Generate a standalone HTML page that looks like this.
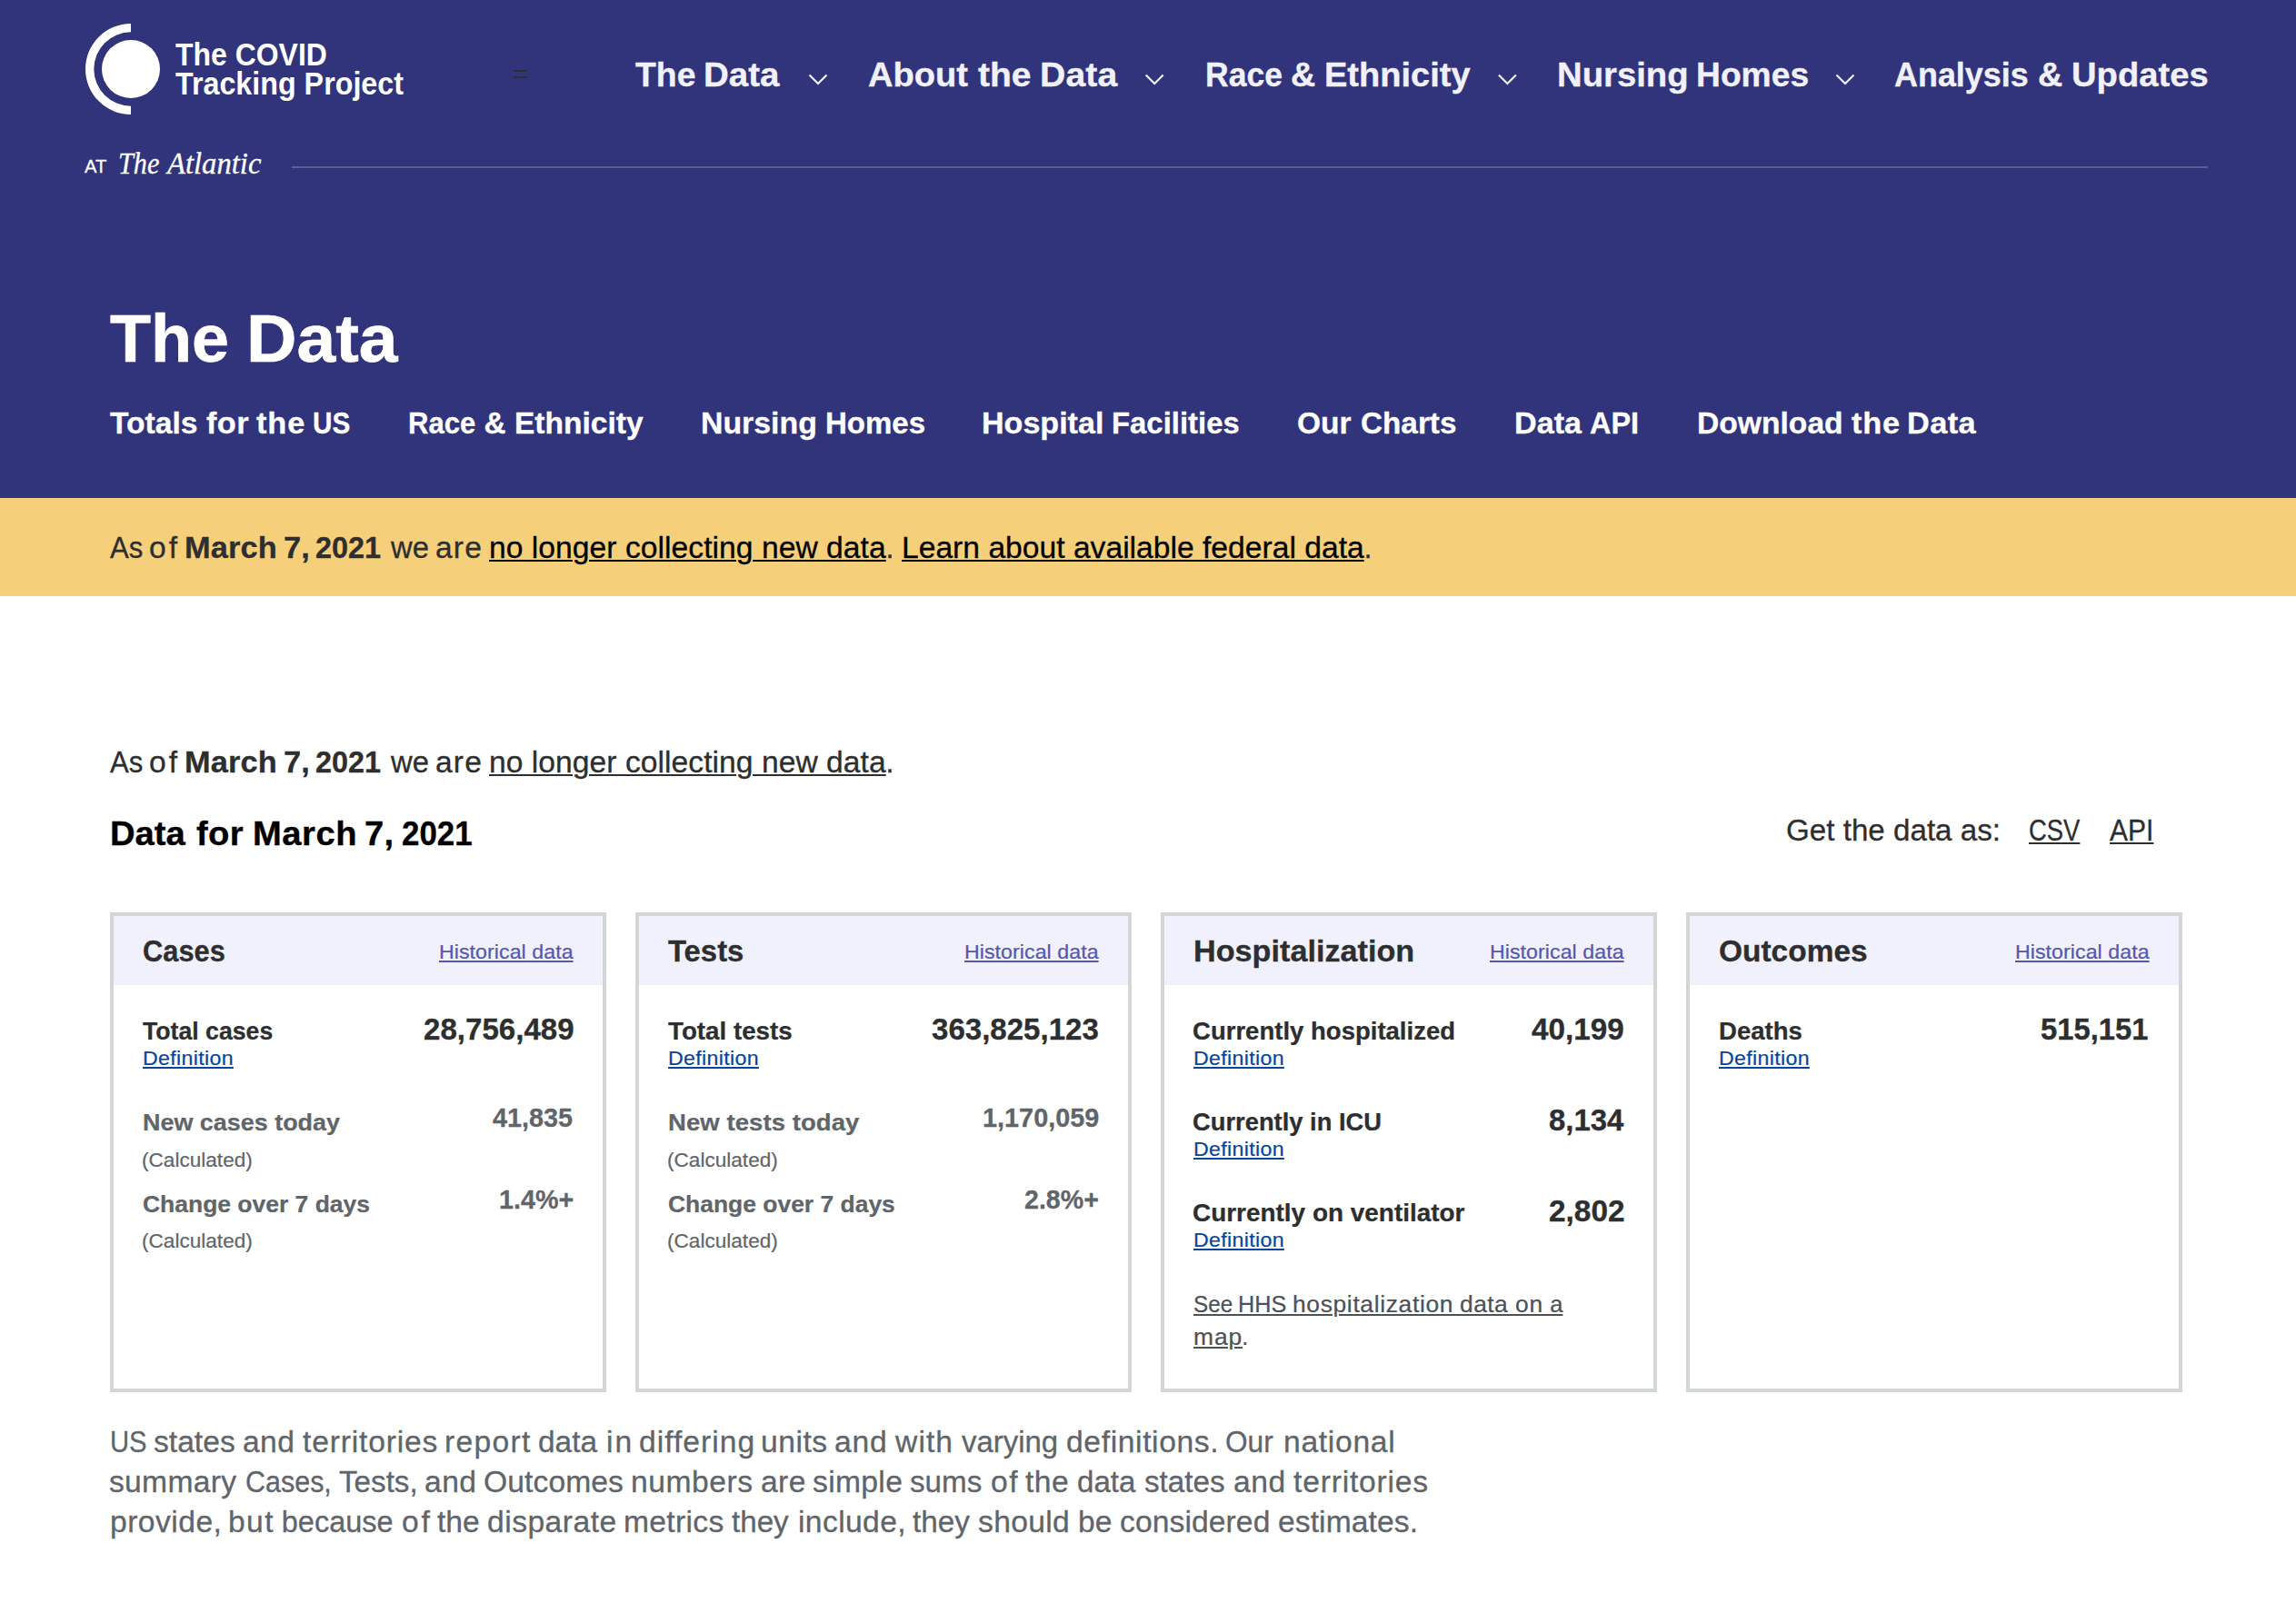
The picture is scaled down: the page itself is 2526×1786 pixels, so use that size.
<!DOCTYPE html>
<html lang="en"><head><meta charset="utf-8"><title>The Data | The COVID Tracking Project</title>
<style>
html,body{margin:0;padding:0}
body{width:2526px;height:1786px;position:relative;overflow:hidden;background:#fff;font-family:"Liberation Sans",sans-serif}
.t{position:absolute;line-height:1;white-space:pre;margin:0;padding:0;transform-origin:0 0;text-decoration:none;font-weight:400;display:block;-webkit-text-stroke:.009em}
.u{text-decoration:underline;text-decoration-thickness:max(1.8px,.064em);text-underline-offset:.07em}
.at{-webkit-text-stroke:.3px #fff}
.ns{-webkit-text-stroke:0}
p,h1,h2,h3,nav,section{margin:0;padding:0}
#hdr{position:absolute;left:0;top:0;width:2526px;height:548px;background:#31347a}
#rule{position:absolute;left:321px;top:183px;width:2108px;height:2px;background:#5c5e98}
.bar{position:absolute;left:565px;width:15px;height:2.4px;background:#2e2e2e}
#banner{position:absolute;left:0;top:548px;width:2526px;height:108px;background:#f6cf7b}
.card{position:absolute;top:1004px;width:538px;height:520px;border:4px solid #d2d6d7;background:#fff}
.ch{height:76px;background:#f1f1fe}
svg{position:absolute;left:0;top:0}
</style></head><body>
<header id="hdr">
<div id="rule"></div><div class="bar" style="top:77.1px"></div><div class="bar" style="top:83.6px"></div>
<svg width="2526" height="200" viewBox="0 0 2526 200" aria-hidden="true">
<circle cx="144" cy="76" r="32" fill="#fff"/>
<path d="M144,26 A50,50 0 0 0 144,126 L144,116.7 A40.7,40.7 0 0 1 144,35.3 Z" fill="#fff"/>
<g fill="none" stroke="#f1f1fc" stroke-width="2.2"><path d="M890.5,82.5 L900,92 L909.5,82.5"/><path d="M1260.7,82.5 L1270.2,92 L1279.7,82.5"/><path d="M1648.9,82.5 L1658.4,92 L1667.9,82.5"/><path d="M2020.5,82.5 L2030,92 L2039.5,82.5"/></g>
</svg>
<a id="logo" href="#">
<span class="t ns" style="left:193.32px;top:42.50px;font-size:34.4px;color:#fff;font-weight:700;transform:scaleX(0.9291)">The COVID</span>
<span class="t ns" style="left:193.32px;top:74.90px;font-size:34.4px;color:#fff;font-weight:700;transform:scaleX(0.9379)">Tracking Project</span>
</a>
<div id="atl">
<span class="t at" style="left:92.74px;top:171.80px;font-size:21px;color:#fff;transform:scaleX(0.9613)">AT</span>
<span class="t" style="left:130.38px;top:162.90px;font-size:33.6px;color:#fff;font-style:italic;font-family:'Liberation Serif',serif;transform:scaleX(0.9001)">The</span>
<span class="t" style="left:184.36px;top:162.90px;font-size:33.6px;color:#fff;font-style:italic;font-family:'Liberation Serif',serif;transform:scaleX(0.9730)">Atlantic</span>
</div>
<nav id="nav">
<a href="#">
<span class="t" style="left:698.97px;top:64.30px;font-size:37.8px;color:#f1f1fc;font-weight:700;transform:scaleX(0.9895)">The</span>
<span class="t" style="left:774.22px;top:64.30px;font-size:37.8px;color:#f1f1fc;font-weight:700;transform:scaleX(1.0172)">Data</span>
</a>
<a href="#">
<span class="t" style="left:954.76px;top:64.30px;font-size:37.8px;color:#f1f1fc;font-weight:700;transform:scaleX(1.0076)">About</span>
<span class="t" style="left:1075.91px;top:64.30px;font-size:37.8px;color:#f1f1fc;font-weight:700;transform:scaleX(1.0335)">the</span>
<span class="t" style="left:1143.87px;top:64.30px;font-size:37.8px;color:#f1f1fc;font-weight:700;letter-spacing:0.156px;transform:scaleX(1.0350)">Data</span>
</a>
<a href="#">
<span class="t" style="left:1326.42px;top:64.30px;font-size:37.8px;color:#f1f1fc;font-weight:700;transform:scaleX(0.9399)">Race</span>
<span class="t" style="left:1420.07px;top:64.30px;font-size:37.8px;color:#f1f1fc;font-weight:700">&amp;</span>
<span class="t" style="left:1457.25px;top:64.30px;font-size:37.8px;color:#f1f1fc;font-weight:700;transform:scaleX(1.0058)">Ethnicity</span>
</a>
<a href="#">
<span class="t" style="left:1712.53px;top:64.30px;font-size:37.8px;color:#f1f1fc;font-weight:700;transform:scaleX(1.0128)">Nursing</span>
<span class="t" style="left:1865.50px;top:64.30px;font-size:37.8px;color:#f1f1fc;font-weight:700;transform:scaleX(0.9847)">Homes</span>
</a>
<a href="#">
<span class="t" style="left:2083.83px;top:64.30px;font-size:37.8px;color:#f1f1fc;font-weight:700;transform:scaleX(0.9505)">Analysis</span>
<span class="t" style="left:2241.97px;top:64.30px;font-size:37.8px;color:#f1f1fc;font-weight:700">&amp;</span>
<span class="t" style="left:2278.89px;top:64.30px;font-size:37.8px;color:#f1f1fc;font-weight:700;transform:scaleX(1.0102)">Updates</span>
</a>
</nav>
<div id="hero">
<h1>
<span class="t" style="left:120.97px;top:334.90px;font-size:75px;color:#fff;font-weight:700;transform:scaleX(0.9823)">The</span>
<span class="t" style="left:271.08px;top:334.90px;font-size:75px;color:#fff;font-weight:700;transform:scaleX(1.0246)">Data</span>
</h1>
</div>
<nav id="subnav">
<a href="#">
<span class="t" style="left:121.11px;top:448.70px;font-size:33.2px;color:#fff;font-weight:700;transform:scaleX(1.0129)">Totals</span>
<span class="t" style="left:227.01px;top:448.70px;font-size:33.2px;color:#fff;font-weight:700;letter-spacing:0.349px;transform:scaleX(1.0350)">for</span>
<span class="t" style="left:281.97px;top:448.70px;font-size:33.2px;color:#fff;font-weight:700;letter-spacing:0.854px;transform:scaleX(1.0350)">the</span>
<span class="t" style="left:344.31px;top:448.70px;font-size:33.2px;color:#fff;font-weight:700;transform:scaleX(0.8958)">US</span>
</a>
<a href="#">
<span class="t" style="left:448.90px;top:448.70px;font-size:33.2px;color:#fff;font-weight:700;transform:scaleX(0.9370)">Race</span>
<span class="t" style="left:532.39px;top:448.70px;font-size:33.2px;color:#fff;font-weight:700">&amp;</span>
<span class="t" style="left:565.94px;top:448.70px;font-size:33.2px;color:#fff;font-weight:700;transform:scaleX(1.0108)">Ethnicity</span>
</a>
<a href="#">
<span class="t" style="left:770.92px;top:448.70px;font-size:33.2px;color:#fff;font-weight:700;transform:scaleX(1.0194)">Nursing</span>
<span class="t" style="left:907.57px;top:448.70px;font-size:33.2px;color:#fff;font-weight:700;transform:scaleX(0.9948)">Homes</span>
</a>
<a href="#">
<span class="t" style="left:1080.40px;top:448.70px;font-size:33.2px;color:#fff;font-weight:700;transform:scaleX(1.0264)">Hospital</span>
<span class="t" style="left:1223.18px;top:448.70px;font-size:33.2px;color:#fff;font-weight:700;transform:scaleX(0.9906)">Facilities</span>
</a>
<a href="#">
<span class="t" style="left:1427.40px;top:448.70px;font-size:33.2px;color:#fff;font-weight:700;transform:scaleX(1.0086)">Our</span>
<span class="t" style="left:1496.90px;top:448.70px;font-size:33.2px;color:#fff;font-weight:700;transform:scaleX(1.0030)">Charts</span>
</a>
<a href="#">
<span class="t" style="left:1665.69px;top:448.70px;font-size:33.2px;color:#fff;font-weight:700;transform:scaleX(1.0296)">Data</span>
<span class="t" style="left:1749.25px;top:448.70px;font-size:33.2px;color:#fff;font-weight:700;transform:scaleX(0.9763)">API</span>
</a>
<a href="#">
<span class="t" style="left:1867.03px;top:448.70px;font-size:33.2px;color:#fff;font-weight:700;transform:scaleX(1.0133)">Download</span>
<span class="t" style="left:2036.67px;top:448.70px;font-size:33.2px;color:#fff;font-weight:700;letter-spacing:0.709px;transform:scaleX(1.0350)">the</span>
<span class="t" style="left:2097.88px;top:448.70px;font-size:33.2px;color:#fff;font-weight:700;letter-spacing:0.360px;transform:scaleX(1.0350)">Data</span>
</a>
</nav>
</header>
<div id="banner">
<p class="lead">
<span class="t" style="left:120.83px;top:39.30px;font-size:32.5px;color:#2d2e2f;transform:scaleX(0.9566)">As</span>
<span class="t" style="left:164.12px;top:39.30px;font-size:32.5px;color:#2d2e2f;letter-spacing:3.049px;transform:scaleX(1.0350)">of</span>
<strong>
<span class="t" style="left:202.88px;top:38.30px;font-size:33.2px;color:#2d2e2f;font-weight:700;letter-spacing:0.161px;transform:scaleX(1.0350)">March</span>
<span class="t" style="left:311.61px;top:38.30px;font-size:33.2px;color:#2d2e2f;font-weight:700;letter-spacing:0.100px;transform:scaleX(1.0350)">7,</span>
<span class="t" style="left:347.45px;top:38.30px;font-size:33.2px;color:#2d2e2f;font-weight:700;transform:scaleX(0.9765)">2021</span>
</strong>
<span class="t" style="left:429.89px;top:39.30px;font-size:32.5px;color:#2d2e2f;transform:scaleX(1.0087)">we</span>
<span class="t" style="left:479.31px;top:39.30px;font-size:32.5px;color:#2d2e2f;letter-spacing:1.087px;transform:scaleX(1.0350)">are</span>
<a class="t u" href="#" style="left:538.30px;top:39.30px;font-size:32.5px;color:#000;letter-spacing:0.033px;transform:scaleX(1.0350)">no longer collecting new data</a><span class="t" style="left:974.40px;top:39.30px;font-size:32.5px;color:#2d2e2f">.</span>
<a class="t u" href="#" style="left:992.30px;top:39.30px;font-size:32.5px;color:#000;transform:scaleX(1.0350)">Learn about available federal data</a><span class="t" style="left:1500.50px;top:39.30px;font-size:32.5px;color:#2d2e2f">.</span>
</p>
</div>
<main id="main">
<p class="lead">
<span class="t" style="left:120.83px;top:822.80px;font-size:32.5px;color:#2d2e2f;transform:scaleX(0.9566)">As</span>
<span class="t" style="left:164.12px;top:822.80px;font-size:32.5px;color:#2d2e2f;letter-spacing:3.049px;transform:scaleX(1.0350)">of</span>
<strong>
<span class="t" style="left:202.88px;top:821.80px;font-size:33.2px;color:#2d2e2f;font-weight:700;letter-spacing:0.161px;transform:scaleX(1.0350)">March</span>
<span class="t" style="left:311.61px;top:821.80px;font-size:33.2px;color:#2d2e2f;font-weight:700;letter-spacing:0.100px;transform:scaleX(1.0350)">7,</span>
<span class="t" style="left:347.45px;top:821.80px;font-size:33.2px;color:#2d2e2f;font-weight:700;transform:scaleX(0.9765)">2021</span>
</strong>
<span class="t" style="left:429.89px;top:822.80px;font-size:32.5px;color:#2d2e2f;transform:scaleX(1.0087)">we</span>
<span class="t" style="left:479.31px;top:822.80px;font-size:32.5px;color:#2d2e2f;letter-spacing:1.087px;transform:scaleX(1.0350)">are</span>
<a class="t u" href="#" style="left:538.30px;top:822.80px;font-size:32.5px;color:#2d2e2f;letter-spacing:0.033px;transform:scaleX(1.0350)">no longer collecting new data</a><span class="t" style="left:974.40px;top:822.80px;font-size:32.5px;color:#2d2e2f">.</span>
</p>
<div id="datahead">
<h2>
<span class="t" style="left:121.13px;top:899.70px;font-size:36.9px;color:#000;font-weight:700;transform:scaleX(1.0350)">Data</span>
<span class="t" style="left:216.35px;top:899.70px;font-size:36.9px;color:#000;font-weight:700;letter-spacing:0.345px;transform:scaleX(1.0350)">for</span>
<span class="t" style="left:277.53px;top:899.70px;font-size:36.9px;color:#000;font-weight:700;letter-spacing:0.482px;transform:scaleX(1.0350)">March</span>
<span class="t" style="left:400.66px;top:899.70px;font-size:36.9px;color:#000;font-weight:700;letter-spacing:0.166px;transform:scaleX(1.0350)">7,</span>
<span class="t" style="left:441.67px;top:899.70px;font-size:36.9px;color:#000;font-weight:700;transform:scaleX(0.9463)">2021</span>
</h2>
<span class="t" style="left:1964.90px;top:898.30px;font-size:32.5px;color:#2d2e2f;transform:scaleX(1.0205)">Get the data as:</span>
<a class="t u" href="#" style="left:2232.40px;top:898.30px;font-size:32.5px;color:#2d2e2f;transform:scaleX(0.8440)">CSV</a>
<a class="t u" href="#" style="left:2320.70px;top:898.30px;font-size:32.5px;color:#2d2e2f;transform:scaleX(0.9238)">API</a>
</div>
<section class="card" style="left:121px">
<div class="ch"></div>
<h3 class="t" style="left:32.21px;top:21.80px;font-size:33.2px;color:#2d2e2f;font-weight:700;transform:scaleX(0.9283)">Cases</h3>
<a class="t u" href="#" style="left:358.00px;top:28.50px;font-size:22.4px;color:#5457ad;letter-spacing:0.049px;transform:scaleX(1.0350)">Historical data</a>
<span class="t" style="left:31.98px;top:113.00px;font-size:27.6px;color:#2d2e2f;font-weight:700;transform:scaleX(0.9663)">Total cases</span>
<span class="t" style="left:340.63px;top:107.90px;font-size:33.2px;color:#2d2e2f;font-weight:700;transform:scaleX(0.9972)">28,756,489</span>
<a class="t u" href="#" style="left:32.10px;top:145.70px;font-size:22.4px;color:#05459e;letter-spacing:0.316px;transform:scaleX(1.0350)">Definition</a>
<span class="t" style="left:31.80px;top:213.80px;font-size:26.6px;color:#60656a;font-weight:700;transform:scaleX(1.0125)">New cases today</span>
<span class="t" style="left:417.36px;top:206.80px;font-size:29.4px;color:#60656a;font-weight:700;transform:scaleX(0.9793)">41,835</span>
<span class="t" style="left:31.26px;top:257.60px;font-size:22.4px;color:#60656a;transform:scaleX(1.0089)">(Calculated)</span>
<span class="t" style="left:31.82px;top:303.70px;font-size:26.6px;color:#60656a;font-weight:700;transform:scaleX(0.9949)">Change over 7 days</span>
<span class="t" style="left:424.00px;top:297.00px;font-size:29.4px;color:#60656a;font-weight:700;transform:scaleX(0.9764)">1.4%+</span>
<span class="t" style="left:31.26px;top:347.40px;font-size:22.4px;color:#60656a;transform:scaleX(1.0089)">(Calculated)</span>
</section>
<section class="card" style="left:699px">
<div class="ch"></div>
<h3 class="t" style="left:32.32px;top:21.80px;font-size:33.2px;color:#2d2e2f;font-weight:700;transform:scaleX(0.9892)">Tests</h3>
<a class="t u" href="#" style="left:358.00px;top:28.50px;font-size:22.4px;color:#5457ad;letter-spacing:0.049px;transform:scaleX(1.0350)">Historical data</a>
<span class="t" style="left:32.37px;top:113.00px;font-size:27.6px;color:#2d2e2f;font-weight:700;transform:scaleX(1.0058)">Total tests</span>
<span class="t" style="left:322.39px;top:107.90px;font-size:33.2px;color:#2d2e2f;font-weight:700;transform:scaleX(0.9962)">363,825,123</span>
<a class="t u" href="#" style="left:32.10px;top:145.70px;font-size:22.4px;color:#05459e;letter-spacing:0.316px;transform:scaleX(1.0350)">Definition</a>
<span class="t" style="left:31.56px;top:213.80px;font-size:26.6px;color:#60656a;font-weight:700;letter-spacing:0.060px;transform:scaleX(1.0350)">New tests today</span>
<span class="t" style="left:377.59px;top:206.80px;font-size:29.4px;color:#60656a;font-weight:700;transform:scaleX(0.9815)">1,170,059</span>
<span class="t" style="left:31.26px;top:257.60px;font-size:22.4px;color:#60656a;transform:scaleX(1.0089)">(Calculated)</span>
<span class="t" style="left:32.02px;top:303.70px;font-size:26.6px;color:#60656a;font-weight:700;transform:scaleX(0.9941)">Change over 7 days</span>
<span class="t" style="left:424.21px;top:297.00px;font-size:29.4px;color:#60656a;font-weight:700;transform:scaleX(0.9726)">2.8%+</span>
<span class="t" style="left:31.26px;top:347.40px;font-size:22.4px;color:#60656a;transform:scaleX(1.0089)">(Calculated)</span>
</section>
<section class="card" style="left:1277px">
<div class="ch"></div>
<h3 class="t" style="left:31.59px;top:21.80px;font-size:33.2px;color:#2d2e2f;font-weight:700;transform:scaleX(1.0305)">Hospitalization</h3>
<a class="t u" href="#" style="left:358.00px;top:28.50px;font-size:22.4px;color:#5457ad;letter-spacing:0.049px;transform:scaleX(1.0350)">Historical data</a>
<span class="t" style="left:31.41px;top:113.00px;font-size:27.6px;color:#2d2e2f;font-weight:700;transform:scaleX(0.9975)">Currently hospitalized</span>
<span class="t" style="left:404.49px;top:107.90px;font-size:33.2px;color:#2d2e2f;font-weight:700;transform:scaleX(1.0031)">40,199</span>
<a class="t u" href="#" style="left:32.10px;top:145.70px;font-size:22.4px;color:#05459e;letter-spacing:0.316px;transform:scaleX(1.0350)">Definition</a>
<span class="t" style="left:31.42px;top:212.80px;font-size:27.6px;color:#2d2e2f;font-weight:700;transform:scaleX(0.9905)">Currently in ICU</span>
<span class="t" style="left:422.88px;top:208.10px;font-size:33.2px;color:#2d2e2f;font-weight:700;transform:scaleX(0.9923)">8,134</span>
<a class="t u" href="#" style="left:32.10px;top:245.50px;font-size:22.4px;color:#05459e;letter-spacing:0.316px;transform:scaleX(1.0350)">Definition</a>
<span class="t" style="left:31.40px;top:313.20px;font-size:27.6px;color:#2d2e2f;font-weight:700;transform:scaleX(1.0120)">Currently on ventilator</span>
<span class="t" style="left:422.82px;top:308.20px;font-size:33.2px;color:#2d2e2f;font-weight:700;transform:scaleX(1.0070)">2,802</span>
<a class="t u" href="#" style="left:32.10px;top:345.60px;font-size:22.4px;color:#05459e;letter-spacing:0.316px;transform:scaleX(1.0350)">Definition</a>
<a href="#">
<span class="t u" style="left:32.00px;top:414.50px;font-size:25.5px;color:#4b5256;transform:scaleX(0.9510)">See </span>
<span class="t u" style="left:81.30px;top:414.50px;font-size:25.5px;color:#4b5256;transform:scaleX(0.9879)">HHS </span>
<span class="t u" style="left:140.90px;top:414.50px;font-size:25.5px;color:#4b5256;letter-spacing:0.634px;transform:scaleX(1.0350)">hospitalization </span>
<span class="t u" style="left:325.40px;top:414.50px;font-size:25.5px;color:#4b5256;letter-spacing:0.444px;transform:scaleX(1.0350)">data </span>
<span class="t u" style="left:385.80px;top:414.50px;font-size:25.5px;color:#4b5256;letter-spacing:0.775px;transform:scaleX(1.0350)">on </span>
<span class="t u" style="left:424.30px;top:414.50px;font-size:25.5px;color:#4b5256">a</span>
<span class="t u" style="left:32.00px;top:451.10px;font-size:25.5px;color:#4b5256;letter-spacing:0.887px;transform:scaleX(1.0350)">map</span>
</a><span class="t" style="left:85.25px;top:451.10px;font-size:25.5px;color:#4b5256">.</span>
</section>
<section class="card" style="left:1855px">
<div class="ch"></div>
<h3 class="t" style="left:31.90px;top:21.80px;font-size:33.2px;color:#2d2e2f;font-weight:700;transform:scaleX(1.0082)">Outcomes</h3>
<a class="t u" href="#" style="left:358.00px;top:28.50px;font-size:22.4px;color:#5457ad;letter-spacing:0.049px;transform:scaleX(1.0350)">Historical data</a>
<span class="t" style="left:32.36px;top:113.00px;font-size:27.6px;color:#2d2e2f;font-weight:700;transform:scaleX(0.9982)">Deaths</span>
<span class="t" style="left:386.11px;top:107.90px;font-size:33.2px;color:#2d2e2f;font-weight:700;transform:scaleX(0.9871)">515,151</span>
<a class="t u" href="#" style="left:32.10px;top:145.70px;font-size:22.4px;color:#05459e;letter-spacing:0.316px;transform:scaleX(1.0350)">Definition</a>
</section>
<p id="note">
<span class="t" style="left:120.64px;top:1570.60px;font-size:32.5px;color:#60656a;transform:scaleX(0.8998)">US</span>
<span class="t" style="left:169.42px;top:1570.60px;font-size:32.5px;color:#60656a;transform:scaleX(1.0346)">states</span>
<span class="t" style="left:267.31px;top:1570.60px;font-size:32.5px;color:#60656a;letter-spacing:0.380px;transform:scaleX(1.0350)">and</span>
<span class="t" style="left:332.89px;top:1570.60px;font-size:32.5px;color:#60656a;letter-spacing:0.786px;transform:scaleX(1.0350)">territories</span>
<span class="t" style="left:488.63px;top:1570.60px;font-size:32.5px;color:#60656a;letter-spacing:1.232px;transform:scaleX(1.0350)">report</span>
<span class="t" style="left:592.04px;top:1570.60px;font-size:32.5px;color:#60656a;transform:scaleX(1.0274)">data</span>
<span class="t" style="left:666.83px;top:1570.60px;font-size:32.5px;color:#60656a;letter-spacing:2.064px;transform:scaleX(1.0350)">in</span>
<span class="t" style="left:703.13px;top:1570.60px;font-size:32.5px;color:#60656a;letter-spacing:0.976px;transform:scaleX(1.0350)">differing</span>
<span class="t" style="left:836.70px;top:1570.60px;font-size:32.5px;color:#60656a;letter-spacing:0.488px;transform:scaleX(1.0350)">units</span>
<span class="t" style="left:918.41px;top:1570.60px;font-size:32.5px;color:#60656a;letter-spacing:0.767px;transform:scaleX(1.0350)">and</span>
<span class="t" style="left:984.69px;top:1570.60px;font-size:32.5px;color:#60656a;letter-spacing:1.049px;transform:scaleX(1.0350)">with</span>
<span class="t" style="left:1057.99px;top:1570.60px;font-size:32.5px;color:#60656a;transform:scaleX(1.0129)">varying</span>
<span class="t" style="left:1173.13px;top:1570.60px;font-size:32.5px;color:#60656a;letter-spacing:0.601px;transform:scaleX(1.0350)">definitions.</span>
<span class="t" style="left:1347.77px;top:1570.60px;font-size:32.5px;color:#60656a;transform:scaleX(0.9722)">Our</span>
<span class="t" style="left:1412.11px;top:1570.60px;font-size:32.5px;color:#60656a;letter-spacing:0.669px;transform:scaleX(1.0350)">national</span>
<span class="t" style="left:120.42px;top:1614.80px;font-size:32.5px;color:#60656a;letter-spacing:0.284px;transform:scaleX(1.0350)">summary</span>
<span class="t" style="left:270.43px;top:1614.80px;font-size:32.5px;color:#60656a;transform:scaleX(0.9375)">Cases,</span>
<span class="t" style="left:372.55px;top:1614.80px;font-size:32.5px;color:#60656a;transform:scaleX(1.0209)">Tests,</span>
<span class="t" style="left:466.51px;top:1614.80px;font-size:32.5px;color:#60656a;letter-spacing:0.428px;transform:scaleX(1.0350)">and</span>
<span class="t" style="left:531.77px;top:1614.80px;font-size:32.5px;color:#60656a;letter-spacing:0.088px;transform:scaleX(1.0350)">Outcomes</span>
<span class="t" style="left:694.01px;top:1614.80px;font-size:32.5px;color:#60656a;letter-spacing:0.535px;transform:scaleX(1.0350)">numbers</span>
<span class="t" style="left:836.81px;top:1614.80px;font-size:32.5px;color:#60656a;letter-spacing:0.363px;transform:scaleX(1.0350)">are</span>
<span class="t" style="left:894.22px;top:1614.80px;font-size:32.5px;color:#60656a;letter-spacing:0.318px;transform:scaleX(1.0350)">simple</span>
<span class="t" style="left:1000.94px;top:1614.80px;font-size:32.5px;color:#60656a;transform:scaleX(1.0201)">sums</span>
<span class="t" style="left:1089.72px;top:1614.80px;font-size:32.5px;color:#60656a;letter-spacing:1.503px;transform:scaleX(1.0350)">of</span>
<span class="t" style="left:1127.79px;top:1614.80px;font-size:32.5px;color:#60656a;letter-spacing:0.405px;transform:scaleX(1.0350)">the</span>
<span class="t" style="left:1184.85px;top:1614.80px;font-size:32.5px;color:#60656a;transform:scaleX(1.0177)">data</span>
<span class="t" style="left:1259.34px;top:1614.80px;font-size:32.5px;color:#60656a;transform:scaleX(1.0227)">states</span>
<span class="t" style="left:1356.81px;top:1614.80px;font-size:32.5px;color:#60656a;letter-spacing:0.573px;transform:scaleX(1.0350)">and</span>
<span class="t" style="left:1422.89px;top:1614.80px;font-size:32.5px;color:#60656a;letter-spacing:0.766px;transform:scaleX(1.0350)">territories</span>
<span class="t" style="left:120.68px;top:1658.70px;font-size:32.5px;color:#60656a;letter-spacing:0.453px;transform:scaleX(1.0350)">provide,</span>
<span class="t" style="left:250.87px;top:1658.70px;font-size:32.5px;color:#60656a;letter-spacing:1.355px;transform:scaleX(1.0350)">but</span>
<span class="t" style="left:309.75px;top:1658.70px;font-size:32.5px;color:#60656a">because</span>
<span class="t" style="left:441.52px;top:1658.70px;font-size:32.5px;color:#60656a;letter-spacing:2.759px;transform:scaleX(1.0350)">of</span>
<span class="t" style="left:480.59px;top:1658.70px;font-size:32.5px;color:#60656a;letter-spacing:0.018px;transform:scaleX(1.0350)">the</span>
<span class="t" style="left:536.23px;top:1658.70px;font-size:32.5px;color:#60656a;letter-spacing:0.458px;transform:scaleX(1.0350)">disparate</span>
<span class="t" style="left:686.41px;top:1658.70px;font-size:32.5px;color:#60656a;letter-spacing:0.296px;transform:scaleX(1.0350)">metrics</span>
<span class="t" style="left:804.70px;top:1658.70px;font-size:32.5px;color:#60656a;transform:scaleX(1.0204)">they</span>
<span class="t" style="left:878.03px;top:1658.70px;font-size:32.5px;color:#60656a;letter-spacing:0.364px;transform:scaleX(1.0350)">include,</span>
<span class="t" style="left:1003.89px;top:1658.70px;font-size:32.5px;color:#60656a;transform:scaleX(1.0237)">they</span>
<span class="t" style="left:1076.42px;top:1658.70px;font-size:32.5px;color:#60656a;letter-spacing:0.297px;transform:scaleX(1.0350)">should</span>
<span class="t" style="left:1186.08px;top:1658.70px;font-size:32.5px;color:#60656a;transform:scaleX(1.0310)">be</span>
<span class="t" style="left:1231.71px;top:1658.70px;font-size:32.5px;color:#60656a;letter-spacing:0.084px;transform:scaleX(1.0350)">considered</span>
<span class="t" style="left:1406.31px;top:1658.70px;font-size:32.5px;color:#60656a;letter-spacing:0.081px;transform:scaleX(1.0350)">estimates.</span>
</p>
</main>
<script>(function(){var d=window.devicePixelRatio||1;if(d>1&&Math.abs(window.innerWidth*d-2526)<6){var s=document.body.style;s.transformOrigin='0 0';s.transform='scale('+(1/d)+')';}})();</script>
</body></html>
